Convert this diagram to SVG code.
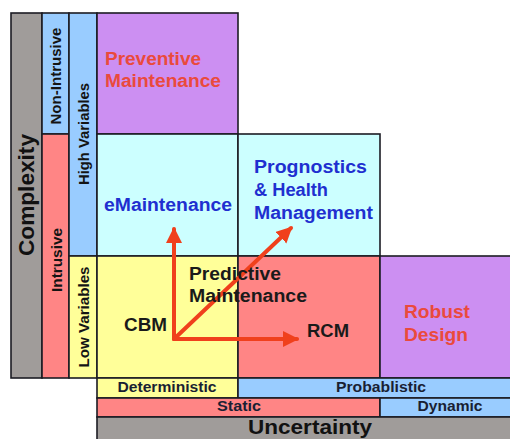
<svg xmlns="http://www.w3.org/2000/svg" width="510" height="439" viewBox="0 0 510 439">
  <style>
    .cell { stroke: #1c1c24; stroke-width: 1.6; }
    .gray { fill: #a09c9a; }
    .blue { fill: #99ccff; }
    .salmon { fill: #ff8585; }
    .yellow { fill: #ffff99; }
    .purple { fill: #cc8ff2; }
    .cyan { fill: #ccffff; }
    text { font-family: "Liberation Sans", Arial, sans-serif; font-weight: bold; }
    .big { font-size: 17.5px; }
    .bar { font-size: 14px; fill: #1a1f33; text-anchor: middle; }
    .side { font-size: 15px; fill: #141414; text-anchor: middle; }
    .red { fill: #ea4a3c; }
    .navy { fill: #1f2fd0; }
    .dark { fill: #1a1a1a; }
    .arrow { stroke: #f0401c; stroke-width: 4; fill: none; stroke-linecap: round; }
  </style>
  <defs>
    <marker id="head" markerUnits="userSpaceOnUse" markerWidth="18" markerHeight="18" refX="14" refY="8" orient="auto">
      <path d="M0,0 L16,8 L0,16 Z" fill="#f0401c"/>
    </marker>
  </defs>

  <rect width="510" height="439" fill="#ffffff"/>

  <!-- vertical axis: complexity -->
  <g id="complexity">
    <rect class="cell gray" x="11" y="13" width="31" height="365"/>
    <text transform="translate(34,195) rotate(-90)" font-size="22" fill="#111" text-anchor="middle" textLength="122" lengthAdjust="spacingAndGlyphs">Complexity</text>
  </g>
  <g id="non-intrusive">
    <rect class="cell blue" x="42" y="13" width="27" height="121"/>
    <text class="side" transform="translate(61,76) rotate(-90)" textLength="97" lengthAdjust="spacingAndGlyphs">Non-Intrusive</text>
  </g>
  <g id="intrusive">
    <rect class="cell salmon" x="42" y="134" width="27" height="244"/>
    <text class="side" transform="translate(62,260) rotate(-90)" textLength="64" lengthAdjust="spacingAndGlyphs">Intrusive</text>
  </g>
  <g id="high-variables">
    <rect class="cell blue" x="69" y="13" width="28" height="243"/>
    <text class="side" transform="translate(89,134) rotate(-90)" textLength="102" lengthAdjust="spacingAndGlyphs">High Variables</text>
  </g>
  <g id="low-variables">
    <rect class="cell yellow" x="69" y="256" width="28" height="122"/>
    <text class="side" transform="translate(89,317) rotate(-90)" textLength="101" lengthAdjust="spacingAndGlyphs">Low Variables</text>
  </g>

  <!-- main grid -->
  <g id="preventive">
    <rect class="cell purple" x="97" y="13" width="141" height="121"/>
    <text class="big red" x="105" y="65" textLength="96" lengthAdjust="spacingAndGlyphs">Preventive</text>
    <text class="big red" x="105" y="87" textLength="116" lengthAdjust="spacingAndGlyphs">Maintenance</text>
  </g>
  <g id="emaintenance">
    <rect class="cell cyan" x="97" y="134" width="141" height="122"/>
    <text class="big navy" x="104" y="211" textLength="128" lengthAdjust="spacingAndGlyphs">eMaintenance</text>
  </g>
  <g id="phm">
    <rect class="cell cyan" x="238" y="134" width="142" height="122"/>
    <text class="big navy" x="254" y="173" textLength="113" lengthAdjust="spacingAndGlyphs">Prognostics</text>
    <text class="big navy" x="254" y="196" textLength="74" lengthAdjust="spacingAndGlyphs">&amp; Health</text>
    <text class="big navy" x="254" y="219" textLength="119" lengthAdjust="spacingAndGlyphs">Management</text>
  </g>
  <g id="cbm">
    <rect class="cell yellow" x="97" y="256" width="141" height="122"/>
    <text class="big dark" x="124" y="331" textLength="43" lengthAdjust="spacingAndGlyphs">CBM</text>
  </g>
  <g id="rcm">
    <rect class="cell salmon" x="238" y="256" width="142" height="122"/>
    <text class="big dark" x="307" y="337" textLength="42" lengthAdjust="spacingAndGlyphs">RCM</text>
  </g>
  <g id="robust">
    <rect class="cell purple" x="380" y="256" width="132" height="122"/>
    <text class="big red" x="404" y="318" textLength="66" lengthAdjust="spacingAndGlyphs">Robust</text>
    <text class="big red" x="404" y="341" textLength="64" lengthAdjust="spacingAndGlyphs">Design</text>
  </g>

  <!-- horizontal axis: uncertainty -->
  <g id="deterministic">
    <rect class="cell yellow" x="97" y="378" width="141" height="20"/>
    <text class="bar" x="167" y="392" textLength="99" lengthAdjust="spacingAndGlyphs">Deterministic</text>
  </g>
  <g id="probablistic">
    <rect class="cell blue" x="238" y="378" width="274" height="20"/>
    <text class="bar" x="381" y="392" textLength="90" lengthAdjust="spacingAndGlyphs">Probablistic</text>
  </g>
  <g id="static">
    <rect class="cell salmon" x="97" y="398" width="283" height="19"/>
    <text class="bar" x="239" y="411" textLength="44" lengthAdjust="spacingAndGlyphs">Static</text>
  </g>
  <g id="dynamic">
    <rect class="cell blue" x="380" y="398" width="132" height="19"/>
    <text class="bar" x="450" y="411" textLength="65" lengthAdjust="spacingAndGlyphs">Dynamic</text>
  </g>
  <g id="uncertainty">
    <rect class="cell gray" x="97" y="417" width="415" height="24"/>
    <text x="310" y="434" font-size="20" fill="#111" text-anchor="middle" textLength="124" lengthAdjust="spacingAndGlyphs">Uncertainty</text>
  </g>

  <!-- evolution arrows from CBM -->
  <g id="connectors">
    <line class="arrow" x1="174" y1="339" x2="174" y2="229" marker-end="url(#head)"/>
    <line class="arrow" x1="174" y1="339" x2="297" y2="339" marker-end="url(#head)"/>
    <line class="arrow" x1="174" y1="339" x2="291" y2="228" marker-end="url(#head)"/>
  </g>

  <g id="predictive">
    <text class="big dark" x="189" y="280" textLength="92" lengthAdjust="spacingAndGlyphs">Predictive</text>
    <text class="big dark" x="189" y="302" textLength="118" lengthAdjust="spacingAndGlyphs">Maintenance</text>
  </g>
</svg>
